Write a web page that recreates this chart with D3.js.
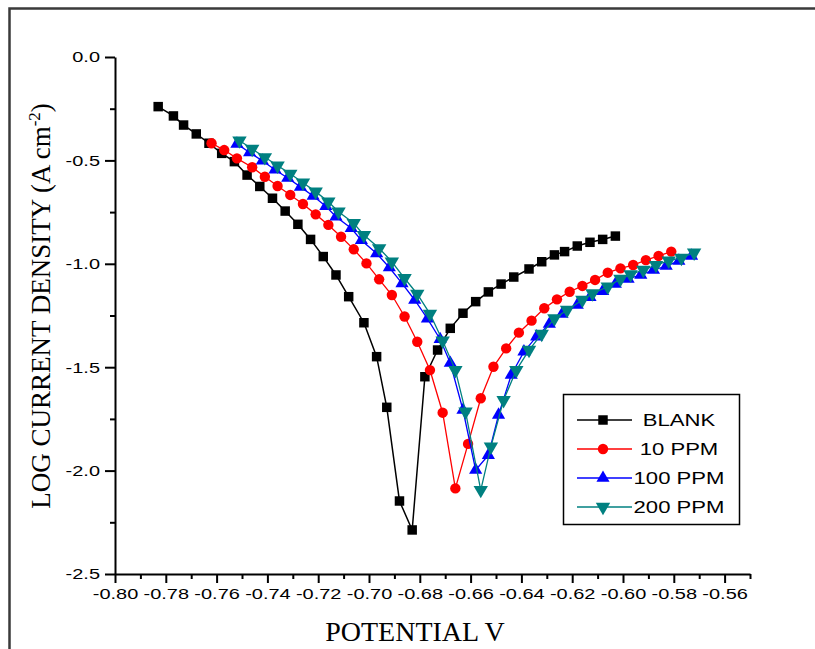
<!DOCTYPE html>
<html><head><meta charset="utf-8">
<script src="https://cdn.jsdelivr.net/npm/d3@7"></script>
<style>body{margin:0;background:#fff}</style></head>
<body>
<svg id="chart" width="815" height="649"></svg>
<script>
// ---- data ----
const seriesNames = ["BLANK", "10 PPM", "100 PPM", "200 PPM"];
const blankX = [-0.783,-0.777,-0.773,-0.768,-0.763,-0.758,-0.753,-0.748,-0.743,-0.738,-0.733,-0.728,-0.723,-0.718,-0.713,-0.708,-0.702,-0.697,-0.693,-0.688,-0.683,-0.678,-0.673,-0.668,-0.663,-0.658,-0.653,-0.648,-0.643,-0.637,-0.632,-0.627,-0.623,-0.618,-0.613,-0.608,-0.603];
const blankY = [-0.240,-0.285,-0.329,-0.372,-0.417,-0.466,-0.506,-0.571,-0.626,-0.683,-0.745,-0.809,-0.882,-0.965,-1.054,-1.159,-1.285,-1.449,-1.694,-2.147,-2.287,-1.546,-1.417,-1.312,-1.239,-1.183,-1.136,-1.098,-1.064,-1.025,-0.990,-0.957,-0.941,-0.914,-0.896,-0.882,-0.866];
const ppm10X = [-0.762,-0.757,-0.752,-0.746,-0.741,-0.736,-0.731,-0.726,-0.721,-0.716,-0.711,-0.706,-0.701,-0.696,-0.691,-0.686,-0.681,-0.676,-0.671,-0.666,-0.661,-0.656,-0.651,-0.646,-0.641,-0.636,-0.631,-0.626,-0.621,-0.616,-0.611,-0.606,-0.601,-0.596,-0.591,-0.586,-0.581];
const ppm10Y = [-0.417,-0.450,-0.490,-0.533,-0.579,-0.624,-0.667,-0.711,-0.761,-0.812,-0.869,-0.930,-0.998,-1.075,-1.151,-1.255,-1.377,-1.514,-1.720,-2.086,-1.871,-1.650,-1.498,-1.409,-1.333,-1.275,-1.215,-1.172,-1.135,-1.107,-1.078,-1.043,-1.022,-1.006,-0.982,-0.962,-0.941];
const ppm100X = [-0.752,-0.747,-0.742,-0.737,-0.732,-0.727,-0.722,-0.717,-0.713,-0.707,-0.703,-0.697,-0.692,-0.687,-0.682,-0.677,-0.672,-0.668,-0.663,-0.658,-0.653,-0.649,-0.644,-0.639,-0.634,-0.629,-0.624,-0.618,-0.613,-0.608,-0.603,-0.598,-0.593,-0.588,-0.583,-0.578,-0.573];
const ppm100Y = [-0.420,-0.462,-0.502,-0.545,-0.585,-0.628,-0.672,-0.722,-0.772,-0.828,-0.886,-0.950,-1.018,-1.095,-1.175,-1.265,-1.365,-1.480,-1.707,-1.997,-1.925,-1.731,-1.538,-1.425,-1.352,-1.291,-1.243,-1.199,-1.161,-1.132,-1.098,-1.073,-1.054,-1.030,-1.011,-0.986,-0.962];
const ppm200X = [-0.751,-0.746,-0.741,-0.736,-0.731,-0.726,-0.721,-0.716,-0.712,-0.706,-0.702,-0.696,-0.691,-0.686,-0.681,-0.676,-0.671,-0.666,-0.662,-0.656,-0.652,-0.647,-0.642,-0.637,-0.632,-0.627,-0.622,-0.616,-0.612,-0.606,-0.601,-0.597,-0.592,-0.587,-0.582,-0.577,-0.572];
const ppm200Y = [-0.404,-0.445,-0.485,-0.525,-0.565,-0.608,-0.651,-0.700,-0.748,-0.804,-0.861,-0.925,-0.990,-1.070,-1.146,-1.242,-1.372,-1.514,-1.715,-2.094,-1.884,-1.659,-1.514,-1.417,-1.339,-1.264,-1.223,-1.175,-1.143,-1.111,-1.073,-1.051,-1.030,-1.006,-0.985,-0.971,-0.946];

const xTicks = [-0.80,-0.78,-0.76,-0.74,-0.72,-0.70,-0.68,-0.66,-0.64,-0.62,-0.60,-0.58,-0.56];
const xTickLabels = ["-0.80","-0.78","-0.76","-0.74","-0.72","-0.70","-0.68","-0.66","-0.64","-0.62","-0.60","-0.58","-0.56"];
const xMinorTicks = [-0.79,-0.77,-0.75,-0.73,-0.71,-0.69,-0.67,-0.65,-0.63,-0.61,-0.59,-0.57,-0.55];
const yTicks = [0.0,-0.5,-1.0,-1.5,-2.0,-2.5];
const yTickLabels = ["0.0","-0.5","-1.0","-1.5","-2.0","-2.5"];
const yMinorTicks = [-0.25,-0.75,-1.25,-1.75,-2.25];
const xTitle = "POTENTIAL V";
const yTitle = "LOG CURRENT DENSITY (A cm";

// ---- styles ----
const colors = ["#000000", "#ff0000", "#0000ff", "#008080"];
const symbols = [d3.symbolSquare, d3.symbolCircle, d3.symbolTriangle, d3.symbolTriangle];
const symSizes = [90, 85, 75, 90];
const symRot = [0, 0, 0, 180];

const series = [
  {name: seriesNames[0], xs: blankX, ys: blankY},
  {name: seriesNames[1], xs: ppm10X, ys: ppm10Y},
  {name: seriesNames[2], xs: ppm100X, ys: ppm100Y},
  {name: seriesNames[3], xs: ppm200X, ys: ppm200Y},
];

const svg = d3.select("#chart");
const x = d3.scaleLinear().domain([-0.80, -0.55]).range([115, 750]);
const y = d3.scaleLinear().domain([-2.5, 0]).range([574, 57]);

function stretch(sel, f) {
  sel.each(function () {
    const w = this.getComputedTextLength();
    this.setAttribute("textLength", w * f);
    this.setAttribute("lengthAdjust", "spacingAndGlyphs");
  });
}

// outer frame
svg.append("rect").attr("x", 9.5).attr("y", 8.5).attr("width", 900).attr("height", 800)
  .attr("fill", "none").attr("stroke", "#3a3a3a").attr("stroke-width", 2.5);

// axes
svg.append("g").attr("transform", "translate(0,574)")
  .call(d3.axisBottom(x).tickValues(xTicks).tickFormat((d, i) => xTickLabels[i]).tickSize(9).tickSizeOuter(0).tickPadding(5));
svg.append("g").attr("transform", "translate(0,574)")
  .call(d3.axisBottom(x).tickValues(xMinorTicks).tickFormat("").tickSize(5).tickSizeOuter(0))
  .select(".domain").remove();
svg.append("g").attr("transform", "translate(115,0)")
  .call(d3.axisLeft(y).tickValues(yTicks).tickFormat((d, i) => yTickLabels[i]).tickSize(10).tickSizeOuter(0).tickPadding(5));
svg.append("g").attr("transform", "translate(115,0)")
  .call(d3.axisLeft(y).tickValues(yMinorTicks).tickFormat("").tickSize(5).tickSizeOuter(0))
  .select(".domain").remove();

svg.selectAll(".domain").attr("stroke", "#000").attr("stroke-width", 2);
svg.selectAll(".tick line").attr("stroke", "#000").attr("stroke-width", 2);
svg.selectAll(".tick text").attr("font-family", "'Liberation Sans', Arial, sans-serif")
  .attr("font-size", 15).attr("fill", "#000");
stretch(svg.selectAll(".tick text").filter(function () { return this.textContent !== ""; }), 1.33);

// series
const line = d3.line().x(d => x(d[0])).y(d => y(d[1]));
series.forEach((s, k) => {
  const pts = s.xs.map((v, i) => [v, s.ys[i]]);
  const g = svg.append("g");
  g.append("path").datum(pts).attr("d", line).attr("fill", "none")
    .attr("stroke", colors[k]).attr("stroke-width", k === 0 ? 1.5 : 1.3);
  g.selectAll("path.m").data(pts).join("path").attr("class", "m")
    .attr("d", d3.symbol().type(symbols[k]).size(symSizes[k]))
    .attr("transform", d => `translate(${x(d[0])},${y(d[1])}) rotate(${symRot[k]})`)
    .attr("fill", colors[k]);
});

// legend
const leg = svg.append("g");
leg.append("rect").attr("x", 563.5).attr("y", 394.5).attr("width", 176).attr("height", 130)
  .attr("fill", "#fff").attr("stroke", "#000").attr("stroke-width", 1.5);
const rowY = [420, 449, 478, 507];
series.forEach((s, k) => {
  leg.append("line").attr("x1", 577).attr("x2", 632).attr("y1", rowY[k]).attr("y2", rowY[k])
    .attr("stroke", colors[k]).attr("stroke-width", 1.5);
  leg.append("path").attr("d", d3.symbol().type(symbols[k]).size(symSizes[k])())
    .attr("transform", `translate(603,${rowY[k]}) rotate(${symRot[k]})`).attr("fill", colors[k]);
  const t = leg.append("text").attr("x", 679).attr("y", rowY[k] + 6).attr("text-anchor", "middle")
    .attr("font-family", "'Liberation Sans', Arial, sans-serif").attr("font-size", 16)
    .attr("fill", "#000").text(s.name);
  stretch(t, 1.38);
});

// titles
svg.append("text").attr("x", 415).attr("y", 641).attr("text-anchor", "middle")
  .attr("font-family", "'Liberation Serif', 'Times New Roman', serif").attr("font-size", 28)
  .attr("fill", "#000").text(xTitle);
const yt = svg.append("text").attr("transform", "translate(50,306) rotate(-90)")
  .attr("text-anchor", "middle")
  .attr("font-family", "'Liberation Serif', 'Times New Roman', serif").attr("font-size", 27)
  .attr("fill", "#000");
yt.append("tspan").text(yTitle);
yt.append("tspan").attr("font-size", 17).attr("dy", -10).text("-2");
yt.append("tspan").attr("dy", 10).text(")");
</script>
</body></html>
